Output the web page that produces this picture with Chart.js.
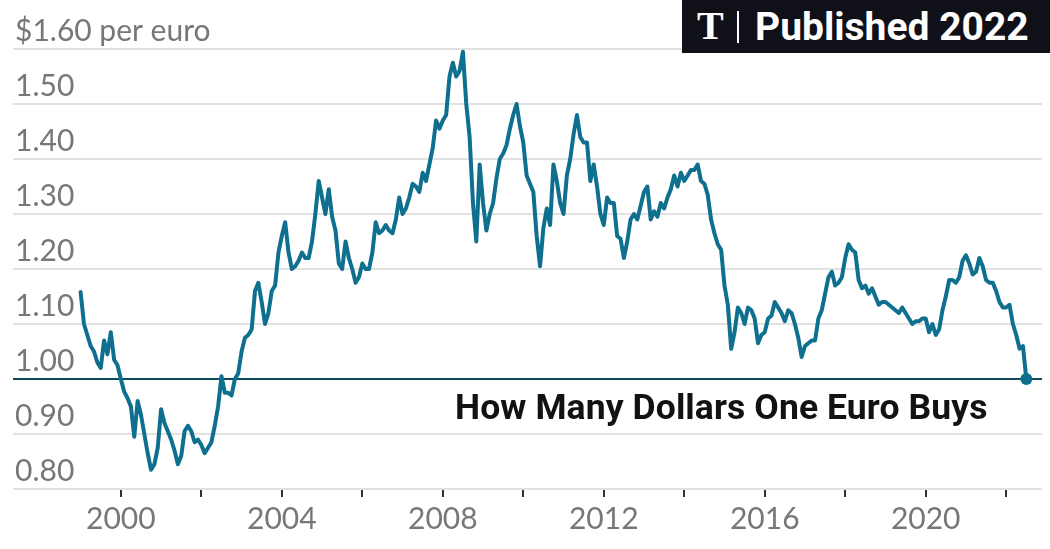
<!DOCTYPE html>
<html>
<head>
<meta charset="utf-8">
<script src="https://cdn.jsdelivr.net/npm/chart.js@4.4.0/dist/chart.umd.min.js"></script>
<style>
html,body{margin:0;padding:0;background:#fff;}
#wrap{position:relative;width:1050px;height:549px;overflow:hidden;}
#badge{position:absolute;left:682px;top:0;width:368px;height:53px;background:#101018;color:#fff;}
#logo{position:absolute;left:15px;top:4px;font:700 40px "Liberation Serif",serif;line-height:44px;}
#bar{position:absolute;left:55px;top:11px;width:2px;height:32px;background:#fff;}
#pub{position:absolute;left:73px;top:5px;font:700 39px Roboto,sans-serif;line-height:44px;white-space:nowrap;}
#title{position:absolute;left:455px;top:390px;font:700 35.5px Roboto,sans-serif;line-height:35px;color:#121212;white-space:nowrap;letter-spacing:0.1px;}
</style>
</head>
<body>
<div id="wrap">
  <canvas id="chart" width="1050" height="549"></canvas>
  <div id="title"></div>
  <div id="badge"><span id="logo">T</span><div id="bar"></div><span id="pub">Published 2022</span></div>
</div>
<script>
// dollars per euro, one value per month from Jan 1999 to Jul 2022
const startYear = 1999;
const rates = [
  1.158, 1.10, 1.08, 1.06, 1.05, 1.03, 1.02, 1.07, 1.045, 1.085, 1.035, 1.025, // 1999
  1.00, 0.977, 0.965, 0.95, 0.895, 0.96, 0.935, 0.90, 0.865, 0.835, 0.845, 0.875, // 2000
  0.945, 0.92, 0.905, 0.89, 0.87, 0.845, 0.86, 0.905, 0.915, 0.905, 0.885, 0.89, // 2001
  0.88, 0.865, 0.875, 0.885, 0.915, 0.95, 1.005, 0.975, 0.975, 0.97, 1.00, 1.01, // 2002
  1.05, 1.075, 1.08, 1.09, 1.16, 1.175, 1.14, 1.10, 1.12, 1.16, 1.17, 1.23, // 2003
  1.26, 1.285, 1.23, 1.20, 1.205, 1.215, 1.23, 1.22, 1.22, 1.25, 1.30, 1.36, // 2004
  1.33, 1.30, 1.345, 1.295, 1.27, 1.21, 1.20, 1.25, 1.22, 1.20, 1.175, 1.185, // 2005
  1.21, 1.20, 1.20, 1.23, 1.285, 1.265, 1.27, 1.28, 1.27, 1.265, 1.29, 1.33, // 2006
  1.30, 1.31, 1.33, 1.355, 1.35, 1.34, 1.375, 1.36, 1.39, 1.42, 1.47, 1.455, // 2007
  1.47, 1.48, 1.55, 1.575, 1.55, 1.56, 1.595, 1.50, 1.44, 1.32, 1.25, 1.39, // 2008
  1.32, 1.27, 1.30, 1.32, 1.365, 1.40, 1.41, 1.425, 1.455, 1.48, 1.50, 1.46, // 2009
  1.43, 1.37, 1.355, 1.34, 1.26, 1.205, 1.275, 1.31, 1.28, 1.39, 1.36, 1.32, // 2010
  1.30, 1.37, 1.40, 1.445, 1.48, 1.44, 1.43, 1.43, 1.36, 1.39, 1.35, 1.30, // 2011
  1.28, 1.33, 1.32, 1.32, 1.26, 1.255, 1.22, 1.25, 1.29, 1.30, 1.29, 1.315, // 2012
  1.34, 1.35, 1.29, 1.305, 1.295, 1.32, 1.31, 1.33, 1.345, 1.37, 1.35, 1.375, // 2013
  1.36, 1.37, 1.38, 1.38, 1.39, 1.36, 1.355, 1.335, 1.29, 1.265, 1.245, 1.235, // 2014
  1.17, 1.135, 1.055, 1.085, 1.13, 1.12, 1.10, 1.13, 1.125, 1.11, 1.065, 1.08, // 2015
  1.085, 1.11, 1.115, 1.14, 1.13, 1.12, 1.105, 1.125, 1.12, 1.10, 1.075, 1.04, // 2016
  1.06, 1.065, 1.07, 1.07, 1.11, 1.125, 1.155, 1.185, 1.195, 1.17, 1.175, 1.185, // 2017
  1.22, 1.245, 1.235, 1.23, 1.18, 1.165, 1.17, 1.155, 1.165, 1.15, 1.135, 1.14, // 2018
  1.14, 1.135, 1.13, 1.125, 1.12, 1.13, 1.12, 1.11, 1.10, 1.105, 1.105, 1.11, // 2019
  1.11, 1.085, 1.10, 1.08, 1.09, 1.125, 1.15, 1.18, 1.18, 1.175, 1.185, 1.215, // 2020
  1.225, 1.21, 1.19, 1.195, 1.22, 1.205, 1.18, 1.175, 1.175, 1.16, 1.14, 1.13, // 2021
  1.13, 1.135, 1.10, 1.08, 1.055, 1.06, 1.00 // 2022
];
const yTicks = [0.8, 0.9, 1.0, 1.1, 1.2, 1.3, 1.4, 1.5, 1.6];
const xTicks = [2000, 2002, 2004, 2006, 2008, 2010, 2012, 2014, 2016, 2018, 2020, 2022];
const labelYears = [2000, 2004, 2008, 2012, 2016, 2020];
const chartTitle = 'How Many Dollars One Euro Buys';

document.getElementById('title').textContent = chartTitle;

const lineColor = '#0f6f8f';
const points = rates.map((v, i) => ({x: startYear + i / 12, y: v}));
const last = points.length - 1;
const tickFont = {family: 'Lato', size: 30};

new Chart(document.getElementById('chart'), {
  type: 'line',
  data: {
    datasets: [{
      data: points,
      borderColor: lineColor,
      backgroundColor: lineColor,
      borderWidth: 4,
      borderJoinStyle: 'round',
      borderCapStyle: 'round',
      tension: 0,
      clip: false,
      pointRadius: c => c.dataIndex === last ? 6 : 0,
      pointBorderWidth: 0,
      pointHoverRadius: 0
    }]
  },
  options: {
    responsive: false,
    animation: false,
    events: [],
    layout: {padding: {left: 13, right: 8, top: 49, bottom: 0}},
    plugins: {legend: {display: false}, tooltip: {enabled: false}},
    scales: {
      x: {
        type: 'linear',
        min: 1997.32,
        max: 2022.89,
        afterBuildTicks: s => { s.ticks = xTicks.map(v => ({value: v})); },
        afterFit: s => { s.height = 60; },
        border: {display: false},
        grid: {drawOnChartArea: false, drawTicks: true, tickLength: 8, color: '#333', lineWidth: 2},
        ticks: {
          padding: 4, color: '#777', font: tickFont, maxRotation: 0, autoSkip: false,
          callback: v => labelYears.includes(v) ? String(v) : ''
        }
      },
      y: {
        min: 0.8,
        max: 1.6,
        afterBuildTicks: s => { s.ticks = yTicks.map(v => ({value: v})); },
        afterFit: s => { s.width = 0; },
        border: {display: false},
        grid: {
          drawTicks: false,
          lineWidth: 2,
          color: c => (c.tick && Math.abs(c.tick.value - 1) < 1e-6) ? '#0c4a5e' : '#e2e2e2'
        },
        ticks: {
          mirror: true, padding: 2, labelOffset: -18, color: '#777', font: tickFont,
          callback: v => Math.abs(v - 1.6) < 1e-6 ? '$1.60 per euro' : v.toFixed(2)
        }
      }
    }
  }
});
</script>
</body>
</html>
